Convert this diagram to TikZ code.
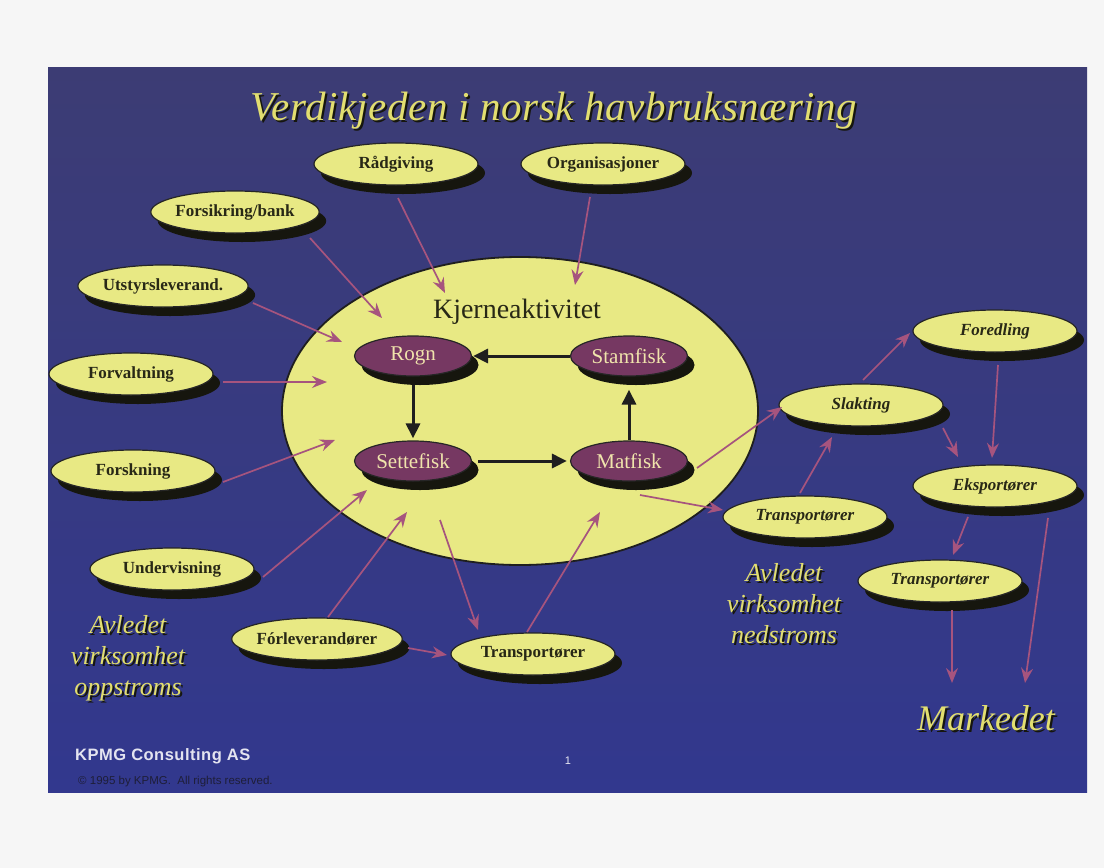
\documentclass[tikz,border=0pt]{standalone}
\usepackage{fontspec}
\setmainfont{Liberation Serif}
\newfontfamily\kpmgfont{Liberation Sans}
\newfontfamily\titlefont[LetterSpace=1.2]{Liberation Serif}
\newfontfamily\spacedsans[LetterSpace=3]{Liberation Sans}
\usetikzlibrary{shapes.geometric,arrows.meta,shadows}

\definecolor{paper}{RGB}{246,246,246}
\definecolor{slidetop}{RGB}{60,60,116}
\definecolor{slidebot}{RGB}{50,56,142}
\definecolor{pale}{RGB}{232,233,132}
\definecolor{plum}{RGB}{118,56,98}
\definecolor{mauve}{RGB}{166,84,126}
\definecolor{ink}{RGB}{40,40,22}
\definecolor{shade}{RGB}{22,22,14}
\definecolor{gold}{RGB}{226,222,112}
\definecolor{cream}{RGB}{240,228,172}
\definecolor{footer}{RGB}{228,228,240}
\definecolor{fine}{RGB}{30,30,56}

\begin{document}
\begin{tikzpicture}[x=1pt,y=-1pt,
  every node/.style={inner sep=0pt},
  oval/.style={ellipse, draw=black!85, line width=1.2pt, fill=pale,
    minimum width=164pt, minimum height=42pt, text=ink,
    font=\fontsize{17}{17}\selectfont\bfseries,
    drop shadow={shadow xshift=7pt, shadow yshift=-9pt, fill=shade, opacity=1}},
  ovalit/.style={oval, font=\fontsize{17}{17}\selectfont\bfseries\itshape},
  stage/.style={ellipse, draw=black!85, line width=1.2pt, fill=plum,
    minimum width=117pt, minimum height=40pt, text=cream,
    font=\fontsize{21}{21}\selectfont,
    drop shadow={shadow xshift=7pt, shadow yshift=-9pt, fill=shade, opacity=1}},
  parr/.style={draw=mauve, line width=1.7pt, -{Stealth[length=15pt,width=12pt,inset=5pt]}},
  carr/.style={draw=black!88, line width=3pt, -{Triangle[length=15pt,width=14pt]}},
  slidetitle/.style={font=\titlefont\fontsize{41}{41}\selectfont\itshape},
  side/.style={font=\fontsize{26}{31}\selectfont\itshape, align=center},
]
% page and slide
\fill[paper] (0,0) rectangle (1104,868);
\useasboundingbox (0,0) rectangle (1104,868);
\shade[top color=slidetop, bottom color=slidebot] (48,67) rectangle (1087,792);

% title with its shadow
\node[slidetitle, text=shade] (titleS) at (556,113) {Verdikjeden i norsk havbruksnæring};
\node[slidetitle, text=gold] (title) at (554,111) {Verdikjeden i norsk havbruksnæring};

% core activity
\node[ellipse, draw=black!88, line width=1.8pt, fill=pale,
  minimum width=476pt, minimum height=308pt] (kjerne) at (520,411) {};
\node[anchor=base, text=ink, font=\fontsize{28}{28}\selectfont] (kjtxt) at (517,318) {Kjerneaktivitet};

\node[stage] (rogn) at (413,356) {Rogn};
\node[stage] (stam) at (629,356) {Stamfisk};
\node[stage] (sett) at (413,461) {Settefisk};
\node[stage] (mat)  at (629,461) {Matfisk};

\draw[carr, shorten >=1pt] (stam.west) -- (rogn.east);
\draw[carr, shorten <=8pt, shorten >=2pt] (rogn.south) -- (sett.north);
\draw[carr, shorten <=6pt, shorten >=3pt] (sett.east) -- (mat.west);
\draw[carr, shorten >=13pt] (mat.north) -- (stam.south);

% upstream suppliers
\node[oval] (rad) at (396,164) {Rådgiving};
\node[oval] (org) at (603,164) {Organisasjoner};
\node[oval] (fsb) at (235,212) {Forsikring/bank};
\node[oval] (uts) at (163,286) {Utstyrsleverand.};
\node[oval] (fov) at (131,374) {Forvaltning};
\node[oval] (fsk) at (133,471) {Forskning};
\node[oval] (und) at (172,569) {Undervisning};
\node[oval] (fle) at (317,639) {Fórleverandører};
\node[oval] (trB) at (533,654) {Transportører};

% downstream
\node[ovalit] (trR) at (805,517) {Transportører};
\node[ovalit] (slak) at (861,405) {Slakting};
\node[ovalit] (fored) at (995,331) {Foredling};
\node[ovalit] (eks) at (995,486) {Eksportører};
\node[ovalit] (trL) at (940,581) {Transportører};

% free ends inside the core ellipse and above the market
\coordinate (kRad) at (445,293);
\coordinate (kOrg) at (575,285);
\coordinate (kFsb) at (382,318);
\coordinate (kUts) at (342,342);
\coordinate (kFov) at (327,382);
\coordinate (kFsk) at (335,440);
\coordinate (kUnd) at (367,490);
\coordinate (kFle) at (407,512);
\coordinate (kOut) at (440,520);
\coordinate (kIn)  at (600,512);
\coordinate (mkt)  at (986,683);

\draw[parr] ([shift={(2,34)}]rad.center) -- (kRad);
\draw[parr] ([shift={(-13,33)}]org.center) -- (kOrg);
\draw[parr] ([shift={(75,26)}]fsb.center) -- (kFsb);
\draw[parr] ([shift={(90,17)}]uts.center) -- (kUts);
\draw[parr] ([shift={(92,8)}]fov.center) -- (kFov);
\draw[parr] ([shift={(90,11)}]fsk.center) -- (kFsk);
\draw[parr] ([shift={(91,8)}]und.center) -- (kUnd);
\draw[parr] ([shift={(11,-22)}]fle.center) -- (kFle);
\draw[parr] ([shift={(91,9)}]fle.center) -- ([shift={(-86,1)}]trB.center);
\draw[parr] (kOut) -- ([shift={(-55,-24)}]trB.center);
\draw[parr] ([shift={(-6,-22)}]trB.center) -- (kIn);

\draw[parr] ([shift={(11,34)}]mat.center) -- ([shift={(-82,-7)}]trR.center);
\draw[parr] ([shift={(68,7)}]mat.center) -- ([shift={(-79,2)}]slak.center);
\draw[parr] ([shift={(-5,-24)}]trR.center) -- ([shift={(-29,32)}]slak.center);
\draw[parr] ([shift={(2,-25)}]slak.center) -- ([shift={(-85,2)}]fored.center);
\draw[parr] ([shift={(82,23)}]slak.center) -- ([shift={(-37,-29)}]eks.center);
\draw[parr] ([shift={(3,34)}]fored.center) -- ([shift={(-3,-28)}]eks.center);
\draw[parr] ([shift={(-27,31)}]eks.center) -- ([shift={(13,-26)}]trL.center);
\draw[parr] ([shift={(53,32)}]eks.center) -- ([shift={(39,0)}]mkt);
\draw[parr] ([shift={(12,29)}]trL.center) -- ([shift={(-34,0)}]mkt);

% side captions
\node[side, text=shade] (upS) at (130,660) {Avledet\\virksomhet\\oppstroms};
\node[side, text=gold] (up) at (128,658) {Avledet\\virksomhet\\oppstroms};
\node[side, text=shade] (downS) at (786,606) {Avledet\\virksomhet\\nedstroms};
\node[side, text=gold] (down) at (784,604) {Avledet\\virksomhet\\nedstroms};

\node[anchor=base, text=shade, font=\fontsize{36}{36}\selectfont\itshape] (marketS) at (988,732) {Markedet};
\node[anchor=base, text=gold, font=\fontsize{36}{36}\selectfont\itshape] (market) at (986,730) {Markedet};

% footer
\node[anchor=base west, text=footer, font=\spacedsans\fontsize{16.5}{16.5}\selectfont\bfseries] (kpmg) at (75,760) {KPMG Consulting AS};
\node[anchor=base west, text=fine, font=\kpmgfont\fontsize{11.5}{11.5}\selectfont] (copy) at (78,784) {© 1995 by KPMG.\ \ All rights reserved.};
\node[anchor=base, text=footer!80, font=\kpmgfont\fontsize{11}{11}\selectfont] (pageno) at (568,764) {1};
\end{tikzpicture}
\end{document}
